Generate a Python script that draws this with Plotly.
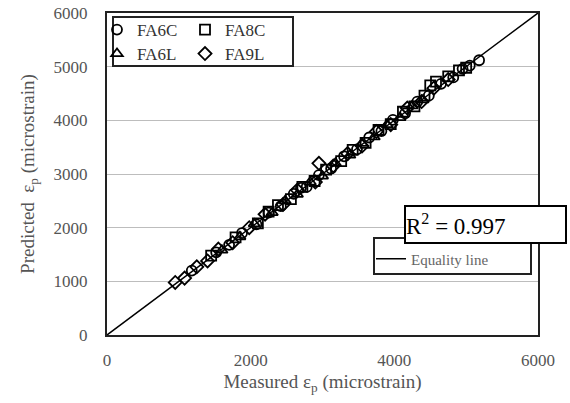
import plotly.graph_objects as go

# Data (measured vs predicted strain, microstrain)
fa6c_meas = [1180, 1520, 1700, 1880, 2080, 2250, 2420, 2600, 2700, 2780, 2950, 3120, 3300, 3480, 3650, 3820, 3980, 4150, 4320, 4480, 4650, 4820, 4950, 5050, 5180]
fa6c_pred = [1200, 1540, 1680, 1900, 2060, 2280, 2400, 2630, 2740, 2760, 2980, 3100, 3330, 3460, 3680, 3800, 4010, 4130, 4350, 4460, 4680, 4800, 4960, 5020, 5120]

fa8c_meas = [1450, 1790, 2100, 2250, 2380, 2560, 2720, 2890, 3050, 3260, 3420, 3600, 3780, 3950, 4120, 4280, 4420, 4500, 4580, 4750, 4900, 5000]
fa8c_pred = [1480, 1820, 2080, 2300, 2420, 2530, 2760, 2870, 3080, 3240, 3450, 3580, 3820, 3930, 4160, 4260, 4460, 4650, 4720, 4820, 4930, 4980]

fa6l_meas = [1600, 1850, 2050, 2300, 2480, 2650, 2830, 3000, 3180, 3380, 3550, 3720, 3900, 4080, 4250, 4400]
fa6l_pred = [1580, 1830, 2070, 2280, 2500, 2620, 2850, 2960, 3200, 3350, 3570, 3690, 3920, 4050, 4270, 4380]

fa9l_meas = [950, 1080, 1250, 1400, 1550, 1750, 1980, 2200, 2450, 2650, 2900, 2950, 3150, 3350, 3550, 3750, 3950, 4180, 4380, 4550, 4750]
fa9l_pred = [980, 1060, 1270, 1380, 1600, 1720, 2000, 2250, 2430, 2700, 2850, 3200, 3150, 3380, 3520, 3790, 3920, 4230, 4350, 4600, 4760]

equality = [0, 6000]
y_ticks = [0, 1000, 2000, 3000, 4000, 5000, 6000]
x_ticks = [0, 2000, 4000, 6000]
r2_text = "R<sup>2</sup> = 0.997"

FONT = "Liberation Serif, Times New Roman, serif"
GRAY = "#555555"

fig = go.Figure()

fig.add_trace(go.Scatter(x=equality, y=equality, mode="lines",
                         line=dict(color="black", width=1.5),
                         name="Equality line", legend="legend5"))

series = [
    ("FA6C", fa6c_meas, fa6c_pred, "circle-open", "legend"),
    ("FA8C", fa8c_meas, fa8c_pred, "square-open", "legend2"),
    ("FA6L", fa6l_meas, fa6l_pred, "triangle-up-open", "legend3"),
    ("FA9L", fa9l_meas, fa9l_pred, "diamond-open", "legend4"),
]
for name, xs, ys, sym, lg in series:
    fig.add_trace(go.Scatter(x=xs, y=ys, mode="markers", name=name, legend=lg,
                             marker=dict(symbol=sym, size=10, color="black",
                                         line=dict(color="black", width=1.8))))

W, H = 570, 403
L, R, T, B = 107, 2, 13, 68
PLOT_RIGHT = 538
pw, ph = W - L - R, H - T - B
x_domain_end = (PLOT_RIGHT - L) / pw

def px(x):
    return (x - L) / pw

def py(y):
    return (H - B - y) / ph

leg_font = dict(family=FONT, size=17, color="#333333")
common = dict(bgcolor="rgba(0,0,0,0)", borderwidth=0,
              xanchor="left", yanchor="middle", itemwidth=30,
              tracegroupgap=0)
fig.update_layout(
    legend=dict(x=px(97), y=py(30), font=leg_font, **common),
    legend2=dict(x=px(185), y=py(30), font=leg_font, **common),
    legend3=dict(x=px(97), y=py(54), font=leg_font, **common),
    legend4=dict(x=px(185), y=py(54), font=leg_font, **common),
    legend5=dict(x=px(371), y=py(259), font=dict(family=FONT, size=15, color="#666666"),
                 **common),
)

fig.update_layout(
    width=W, height=H,
    margin=dict(l=L, r=R, t=T, b=B),
    paper_bgcolor="white", plot_bgcolor="white",
    showlegend=True,
    font=dict(family=FONT, color=GRAY),
    xaxis=dict(range=[0, 6000], domain=[0, x_domain_end], tickvals=x_ticks,
               showgrid=False, zeroline=False,
               showline=True, linecolor="#222222", linewidth=2, mirror=True,
               ticks="", ticklabelstandoff=9, automargin="bottom+height",
               tickfont=dict(family=FONT, size=17, color=GRAY),
               title=dict(text="Measured ε<sub>p</sub> (microstrain)",
                          font=dict(family=FONT, size=19, color=GRAY), standoff=5)),
    yaxis=dict(range=[0, 6000], tickvals=y_ticks, showgrid=True, gridcolor="#bdbdbd",
               gridwidth=1, zeroline=False,
               showline=True, linecolor="#222222", linewidth=2, mirror=True,
               ticks="", ticklabelstandoff=14, automargin="left+width",
               tickfont=dict(family=FONT, size=17, color=GRAY),
               title=dict(text="Predicted  ε<sub>p</sub> (microstrain)",
                          font=dict(family=FONT, size=19, color=GRAY), standoff=14)),
)

shapes = [
    dict(type="rect", xref="paper", yref="paper", x0=px(113), x1=px(293),
         y0=py(66), y1=py(17), line=dict(color="#222222", width=2)),
    dict(type="rect", xref="paper", yref="paper", x0=px(374), x1=px(531),
         y0=py(274), y1=py(238), line=dict(color="#222222", width=2)),
]
fig.update_layout(shapes=shapes)

fig.add_annotation(xref="paper", yref="paper", x=px(404), y=py(224.5),
                   text=r2_text, showarrow=False, xanchor="left", yanchor="middle",
                   font=dict(family=FONT, size=23, color="black"),
                   bgcolor="white", bordercolor="black", borderwidth=2, borderpad=0,
                   width=159, height=35, align="left")

fig.write_html("out.html", config={"displayModeBar": False},
               post_script="document.body.style.margin='0';")
